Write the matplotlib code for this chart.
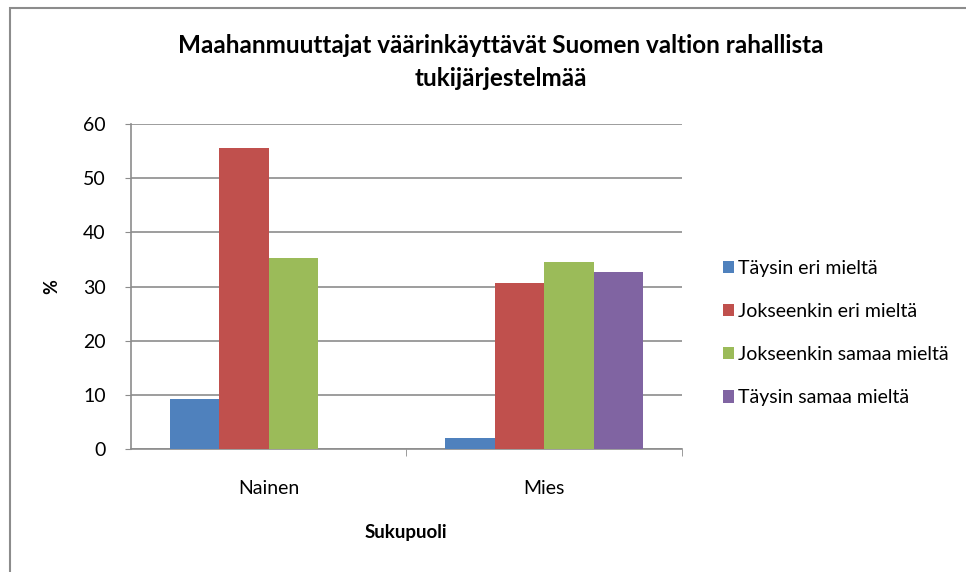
import matplotlib.pyplot as plt
import numpy as np
from matplotlib.patches import Rectangle

plt.rcParams['font.family'] = ['Lato', 'DejaVu Sans']

categories = ['Nainen', 'Mies']
series = ['Täysin eri mieltä', 'Jokseenkin eri mieltä',
          'Jokseenkin samaa mieltä', 'Täysin samaa mieltä']
values = [
    [9.2, 2.0],
    [55.5, 30.6],
    [35.2, 34.6],
    [0.0, 32.7],
]
colors = ['#4F81BD', '#C0504D', '#9BBB59', '#8064A2']

fig = plt.figure(figsize=(9.66, 5.72), dpi=100)
ax = fig.add_axes([130.7 / 966, 1 - 449 / 572, (682 - 130.7) / 966, (449 - 124) / 572])

# outer chart border
fig.patches.append(Rectangle((10 / 966, -0.1), 1.2, 1 - 8 / 572 + 0.1,
                             transform=fig.transFigure, fill=False,
                             edgecolor='#8c8c8c', linewidth=1.5))

x = np.arange(len(categories))
w = 0.179
for i, (name, vals) in enumerate(zip(series, values)):
    ax.bar(x + (i - 1.5) * w, vals, w, color=colors[i], label=name, zorder=3)

ax.set_xlim(-0.5, 1.5)
ax.set_ylim(0, 60)
ax.set_yticks(range(0, 61, 10))
ax.yaxis.grid(True, color='#8c8c8c', linewidth=1.2, zorder=0)
ax.set_xticks(x)
ax.set_xticklabels(categories, fontsize=14)
ax.set_xticks([0.5, 1.5], minor=True)
ax.tick_params(axis='x', which='major', length=0, pad=22)
ax.tick_params(axis='x', which='minor', length=5, color='#8c8c8c')
ax.tick_params(axis='y', length=4, color='#8c8c8c', labelsize=14, pad=14)

for s in ['top', 'right']:
    ax.spines[s].set_visible(False)
for s in ['left', 'bottom']:
    ax.spines[s].set_color('#8c8c8c')
    ax.spines[s].set_linewidth(1.2)

ax.set_ylabel('%', fontsize=13, fontweight='bold', labelpad=16)
ax.set_xlabel('Sukupuoli', fontsize=13.5, fontweight='bold', labelpad=20)
fig.text(0.518, 1 - 62 / 572,
         'Maahanmuuttajat väärinkäyttävät Suomen valtion rahallista\ntukijärjestelmää',
         ha='center', va='center', fontsize=17.5, fontweight='bold', linespacing=1.55)

ax.legend(loc='center left', bbox_to_anchor=(705 / 966, 1 - 333 / 572),
          bbox_transform=fig.transFigure, frameon=False, fontsize=14,
          handlelength=0.6, handleheight=0.6, handletextpad=0.2, labelspacing=1.35)

fig.savefig('out.png', dpi=100)
